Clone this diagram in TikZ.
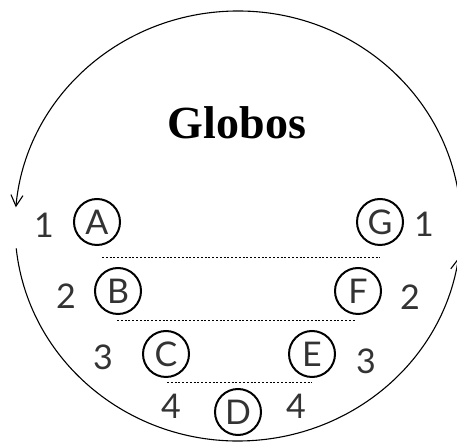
\documentclass[tikz,border=0pt]{standalone}
\usepackage{fontspec}
\setmainfont{Lato}
\newfontfamily\titlefont{Liberation Serif}
\usetikzlibrary{arrows.meta}

\begin{document}
\begin{tikzpicture}[x=1pt, y=1pt,
	globo/.style = {draw, circle, line width=2pt, minimum size=46pt, inner sep=0pt, font=\fontsize{34}{34}\selectfont, text=black!80},
	num/.style = {font=\fontsize{34}{34}\selectfont, text=black!80},
	fila/.style = {line width=1pt, dash pattern=on 2pt off 1.8pt},
	vuelta/.style = {line width=1.1pt, -{Straight Barb[length=11pt, width=12pt, line width=1.1pt]}}]
		\useasboundingbox (0,0) rectangle (457,443);
		% Titulo
		\node[anchor=base, font=\titlefont\bfseries\fontsize{46}{46}\selectfont] (titulo) at (237,304) {Globos};
		% Circulo
		\draw[vuelta] (238,217) ++(4:223 and 215) arc[start angle=4, end angle=175, x radius=223, y radius=215];
		\draw[vuelta] (238,217) ++(186:223 and 215) arc[start angle=186, end angle=351.5, x radius=223, y radius=215];
		% Globos
		\node[globo] (A) at (97,221) {A};
		\node[globo] (B) at (118,152) {B};
		\node[globo] (C) at (166,89) {C};
		\node[globo] (D) at (238,31) {D};
		\node[globo] (E) at (312,89) {E};
		\node[globo] (F) at (358,152) {F};
		\node[globo] (G) at (380,221) {G};
		% Numeros
		\node[num] (n1a) at (44,218) {1};
		\node[num] (n1b) at (424,219) {1};
		\node[num] (n2a) at (66,147) {2};
		\node[num] (n2b) at (410,146) {2};
		\node[num] (n3a) at (103,86) {3};
		\node[num] (n3b) at (366,82) {3};
		\node[num] (n4a) at (171,37) {4};
		\node[num] (n4b) at (296,37) {4};
		% Filas
		\coordinate (f1a) at (102,185);
		\coordinate (f1b) at (380,185);
		\coordinate (f2a) at (117,122);
		\coordinate (f2b) at (355,122);
		\coordinate (f3a) at (167,60);
		\coordinate (f3b) at (312,60);
		\draw[fila] (f1a) -- (f1b);	% A-G
		\draw[fila] (f2a) -- (f2b);	% B-F
		\draw[fila] (f3a) -- (f3b);	% C-E
\end{tikzpicture}
\end{document}
